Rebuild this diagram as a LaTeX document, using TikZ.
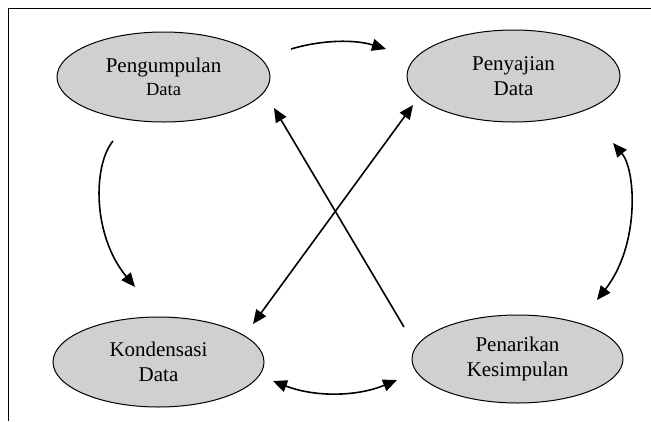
\documentclass[tikz,border=0pt]{standalone}
\usepackage{fontspec}
\setmainfont{Liberation Serif}
\usetikzlibrary{shapes.geometric,arrows.meta}
\definecolor{ellfill}{RGB}{208,207,209}
\tikzset{
  stage/.style={ellipse, draw=black, line width=1pt, fill=ellfill, inner sep=0pt,
    align=center, font=\fontsize{21}{25}\selectfont},
  conn/.style={line width=1.6pt, -{Triangle[length=14pt,width=12pt]}},
  conn2/.style={line width=1.6pt, {Triangle[length=14pt,width=12pt]}-{Triangle[length=14pt,width=12pt]}},
  frame/.style={line width=1pt}
}
\begin{document}
\begin{tikzpicture}[x=1pt,y=-1pt]
\useasboundingbox (0,0) rectangle (651,421);
% frame
\coordinate (fa) at (651,8);
\coordinate (fb) at (8,8);
\coordinate (fc) at (8,421);
\draw[frame] (fa) -- (fb) -- (fc);
% stages
\node[stage, minimum width=213pt, minimum height=90pt] (p1) at (163.5,77) {Pengumpulan\\[-2pt]{\fontsize{18.5}{22}\selectfont Data}};
\node[stage, minimum width=213pt, minimum height=92pt] (p2) at (513.5,76) {Penyajian\\Data};
\node[stage, minimum width=211pt, minimum height=90pt] (k) at (158.5,362) {Kondensasi\\Data};
\node[stage, minimum width=211pt, minimum height=88pt] (pk) at (517.5,359) {Penarikan\\Kesimpulan};
% connector endpoints
\coordinate (a1) at (291,49);
\coordinate (a2) at (386,49);
\coordinate (b1) at (113,141);
\coordinate (b2) at (135,287);
\coordinate (c1) at (613,143);
\coordinate (c2) at (597,300);
\coordinate (d1) at (273,381);
\coordinate (d2) at (397,380);
\coordinate (e1) at (404,327);
\coordinate (e2) at (274,108);
\coordinate (f1) at (253,324);
\coordinate (f2) at (413,105);
% connectors
\draw[conn] (a1) .. controls (323,39.5) and (355,39.5) .. (a2);
\draw[conn] (b1) .. controls (93,165) and (92,235) .. (b2);
\draw[conn2] (c1) .. controls (636,170) and (640,245) .. (c2);
\draw[conn2] (d1) .. controls (314,397) and (356,397) .. (d2);
\draw[conn] (e1) -- (e2);
\draw[conn2] (f1) -- (f2);
\end{tikzpicture}
\end{document}
